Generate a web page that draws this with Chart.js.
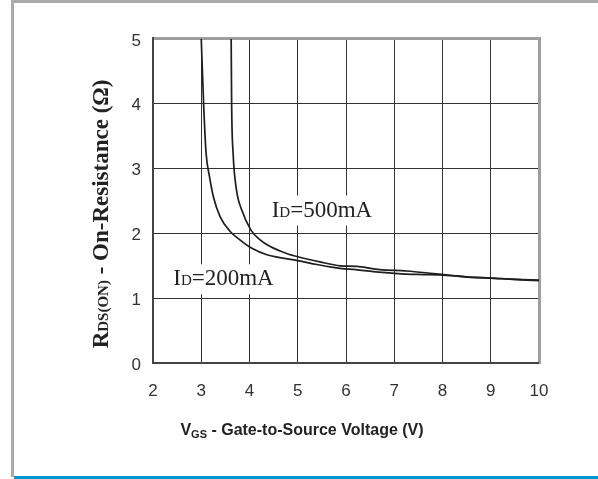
<!DOCTYPE html>
<html>
<head>
<meta charset="utf-8">
<script src="https://cdn.jsdelivr.net/npm/chart.js@4"></script>
<style>
html,body{margin:0;padding:0;background:#fff;}
canvas{display:block;}
</style>
</head>
<body>
<canvas id="c" width="598" height="479"></canvas>
<script>
// ---- data ----
const vgs200 = [3.00, 3.05, 3.10, 3.17, 3.25, 3.39, 3.60, 3.80, 4.05, 4.36, 4.60, 5.00, 5.40, 5.88, 6.20, 6.57, 6.90, 7.26, 7.60, 7.95, 8.50, 9.00, 9.50, 10.00];
const rds200 = [5.00, 3.98, 3.24, 2.88, 2.57, 2.26, 2.03, 1.90, 1.77, 1.67, 1.63, 1.58, 1.52, 1.46, 1.44, 1.41, 1.39, 1.37, 1.365, 1.36, 1.33, 1.31, 1.29, 1.27];
const vgs500 = [3.62, 3.63, 3.66, 3.73, 3.84, 4.03, 4.22, 4.42, 4.77, 5.00, 5.46, 5.88, 6.22, 6.70, 7.26, 7.81, 8.20, 8.64, 9.00, 9.50, 10.00];
const rds500 = [5.01, 3.98, 3.24, 2.67, 2.36, 2.05, 1.90, 1.80, 1.69, 1.64, 1.56, 1.50, 1.49, 1.44, 1.42, 1.38, 1.35, 1.32, 1.31, 1.29, 1.28];
const xTicks = [2, 3, 4, 5, 6, 7, 8, 9, 10];
const yTicks = [0, 1, 2, 3, 4, 5];
const curveLabels = [
  { main: "I", sub: "D", rest: "=500mA", x: 4.46, y: 2.26 },
  { main: "I", sub: "D", rest: "=200mA", x: 2.42, y: 1.20 }
];
const xTitle = { main: "V", sub: "GS", rest: " - Gate-to-Source Voltage (V)" };
const yTitle = { main: "R", sub: "DS(ON)", rest: " - On-Resistance (\u03A9)" };

const toPts = (xs, ys) => xs.map((x, i) => ({ x: x, y: ys[i] }));

const SERIF = "'Liberation Serif', 'Times New Roman', serif";
const SANS = "'Liberation Sans', Arial, sans-serif";
const LBL = 23, LBL_SUB = 15;

const framePlugin = {
  id: 'frame',
  beforeDraw(chart) {
    const ctx = chart.ctx;
    ctx.save();
    ctx.fillStyle = '#fff';
    ctx.fillRect(0, 0, chart.width, chart.height);
    ctx.fillStyle = '#ababab';
    ctx.fillRect(11, 0, 3, 477);
    ctx.fillRect(11, 0, chart.width - 11, 3);
    ctx.fillStyle = '#0096d6';
    ctx.fillRect(14, 476, chart.width - 14, 3);
    ctx.restore();
  },
  beforeDatasetsDraw(chart) {
    const ctx = chart.ctx;
    const a = chart.chartArea;
    const xs = chart.scales.x, ys = chart.scales.y;
    ctx.save();
    ctx.fillStyle = '#fff';
    curveLabels.forEach(l => {
      const px = xs.getPixelForValue(l.x), py = ys.getPixelForValue(l.y);
      ctx.font = 'normal ' + LBL + 'px ' + SERIF;
      let w = ctx.measureText(l.main + l.rest).width;
      ctx.font = 'normal ' + LBL_SUB + 'px ' + SERIF;
      w += ctx.measureText(l.sub).width;
      ctx.fillRect(px - 3, py - 21, w + 6, 30);
    });
    ctx.fillStyle = '#9e9e9e';
    ctx.fillRect(a.left, a.top - 2, a.right - a.left + 2, 3);
    ctx.fillRect(a.right - 1, a.top - 2, 3, a.bottom - a.top + 3);
    ctx.fillStyle = '#444';
    ctx.fillRect(a.left - 1, a.top - 2, 2, a.bottom - a.top + 3);
    ctx.fillRect(a.left - 1, a.bottom - 1, a.right - a.left + 1, 2);
    ctx.restore();
  },
  afterDatasetsDraw(chart) {
    const ctx = chart.ctx;
    const xs = chart.scales.x, ys = chart.scales.y;
    ctx.save();
    ctx.fillStyle = '#222';
    ctx.textBaseline = 'alphabetic';
    ctx.textAlign = 'left';
    curveLabels.forEach(l => {
      let px = xs.getPixelForValue(l.x);
      const py = ys.getPixelForValue(l.y);
      ctx.font = 'normal ' + LBL + 'px ' + SERIF;
      ctx.fillText(l.main, px, py);
      px += ctx.measureText(l.main).width;
      ctx.font = 'normal ' + LBL_SUB + 'px ' + SERIF;
      ctx.fillText(l.sub, px, py);
      px += ctx.measureText(l.sub).width;
      ctx.font = 'normal ' + LBL + 'px ' + SERIF;
      ctx.fillText(l.rest, px, py);
    });

    // x axis title
    ctx.fillStyle = '#222';
    const fx = 'bold 16px ' + SANS, fxs = 'bold 11px ' + SANS;
    ctx.font = fx; let w1 = ctx.measureText(xTitle.main).width, w3 = ctx.measureText(xTitle.rest).width;
    ctx.font = fxs; let w2 = ctx.measureText(xTitle.sub).width;
    let tw = w1 + w2 + w3;
    let cx = 302 - tw / 2, by = 435;
    ctx.font = fx; ctx.fillText(xTitle.main, cx, by);
    ctx.font = fxs; ctx.fillText(xTitle.sub, cx + w1, by + 3);
    ctx.font = fx; ctx.fillText(xTitle.rest, cx + w1 + w2, by);

    // y axis title (rotated)
    ctx.translate(108, 214);
    ctx.rotate(-Math.PI / 2);
    const fy = 'bold 23px ' + SERIF, fys = 'bold 15px ' + SERIF;
    ctx.font = fy; w1 = ctx.measureText(yTitle.main).width; w3 = ctx.measureText(yTitle.rest).width;
    ctx.font = fys; w2 = ctx.measureText(yTitle.sub).width;
    tw = w1 + w2 + w3;
    cx = -tw / 2;
    ctx.font = fy; ctx.fillText(yTitle.main, cx, 0);
    ctx.font = fys; ctx.fillText(yTitle.sub, cx + w1, 0);
    ctx.font = fy; ctx.fillText(yTitle.rest, cx + w1 + w2, 0);
    ctx.restore();
  }
};

new Chart(document.getElementById('c'), {
  type: 'scatter',
  data: {
    datasets: [
      { label: 'ID=200mA', data: toPts(vgs200, rds200), showLine: true, borderColor: '#1e1e1e', borderWidth: 1.7, pointRadius: 0, cubicInterpolationMode: 'monotone', fill: false },
      { label: 'ID=500mA', data: toPts(vgs500, rds500), showLine: true, borderColor: '#1e1e1e', borderWidth: 1.7, pointRadius: 0, cubicInterpolationMode: 'monotone', fill: false }
    ]
  },
  options: {
    responsive: false,
    animation: false,
    devicePixelRatio: 1,
    layout: { padding: { left: 0, right: 59, top: 39, bottom: 0 } },
    plugins: { legend: { display: false }, tooltip: { enabled: false } },
    scales: {
      x: {
        type: 'linear', min: 2, max: 10,
        afterBuildTicks: s => { s.ticks = xTicks.map(v => ({ value: v })); },
        afterFit: s => { s.height = 116; },
        grid: { color: '#333', lineWidth: 1, drawTicks: false },
        border: { display: false },
        ticks: { color: '#333', font: { family: SANS, size: 17 }, padding: 18, maxRotation: 0 }
      },
      y: {
        type: 'linear', min: 0, max: 5,
        afterBuildTicks: s => { s.ticks = yTicks.map(v => ({ value: v })); },
        afterFit: s => { s.width = 153; },
        grid: { color: '#333', lineWidth: 1, drawTicks: false },
        border: { display: false },
        ticks: { color: '#333', font: { family: SANS, size: 17 }, padding: 12, labelOffset: 2 }
      }
    }
  },
  plugins: [framePlugin]
});
</script>
</body>
</html>
